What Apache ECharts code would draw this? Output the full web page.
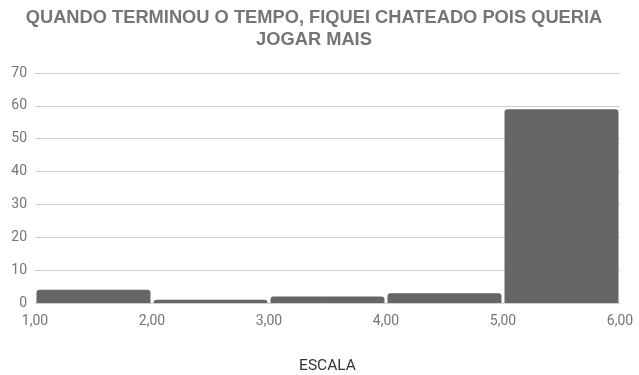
<!DOCTYPE html>
<html>
<head>
<meta charset="utf-8">
<script src="https://cdn.jsdelivr.net/npm/echarts@6/dist/echarts.min.js"></script>
<style>
  html, body { margin: 0; padding: 0; background: #fff; }
  #chart { width: 639px; height: 375px; }
</style>
</head>
<body>
<div id="chart"></div>
<script>
// Histogram bins on the 1–6 scale and their counts
var binStarts = [1, 2, 3, 4, 5];
var binEnds = [2, 3, 4, 5, 6];
var counts = [4, 1, 2, 3, 59];
var yTicks = [0, 10, 20, 30, 40, 50, 60, 70];
var titleText = 'QUANDO TERMINOU O TEMPO, FIQUEI CHATEADO POIS QUERIA\nJOGAR MAIS';

var data = binStarts.map(function (s, i) { return [s, binEnds[i], counts[i]]; });

var chart = echarts.init(document.getElementById('chart'), null, { renderer: 'canvas' });

chart.setOption({
  animation: false,
  graphic: [{
    type: 'text',
    x: 314,
    y: 7,
    style: {
      text: titleText,
      textAlign: 'center',
      textVerticalAlign: 'top',
      fontFamily: '"Liberation Sans", Arial, sans-serif',
      fontWeight: 'bold',
      fontSize: 18.3,
      lineHeight: 22,
      fill: '#757575'
    }
  }],
  grid: { left: 35, right: 19, top: 73, bottom: 72, containLabel: false, outerBoundsMode: 'none' },
  xAxis: {
    type: 'value',
    min: 1,
    max: 6,
    interval: 1,
    name: 'ESCALA',
    nameLocation: 'middle',
    nameGap: 55,
    nameTextStyle: { fontFamily: 'Roboto', fontSize: 15.5, color: '#333' },
    axisLine: { show: false },
    axisTick: { show: false },
    splitLine: { show: false },
    axisLabel: {
      fontFamily: 'Roboto',
      fontSize: 14,
      color: '#757575',
      margin: 11,
      formatter: function (v) { return v.toFixed(2).replace('.', ','); }
    }
  },
  yAxis: {
    type: 'value',
    min: yTicks[0],
    max: yTicks[yTicks.length - 1],
    interval: 10,
    axisLine: { show: false },
    axisTick: { show: false },
    splitLine: { lineStyle: { color: '#d0d0d0', width: 1 } },
    axisLabel: {
      fontFamily: 'Roboto',
      fontSize: 14,
      color: '#757575',
      margin: 8
    }
  },
  series: [{
    type: 'custom',
    data: data,
    encode: { x: [0, 1], y: 2 },
    renderItem: function (params, api) {
      var p0 = api.coord([api.value(0), api.value(2)]);
      var p1 = api.coord([api.value(1), 0]);
      var x = p0[0] + 1.5;
      var w = p1[0] - p0[0] - 3;
      return {
        type: 'rect',
        shape: { x: x, y: p0[1], width: w, height: p1[1] - p0[1], r: [3, 3, 0, 0] },
        style: { fill: '#666666' }
      };
    }
  }]
});
</script>
</body>
</html>
